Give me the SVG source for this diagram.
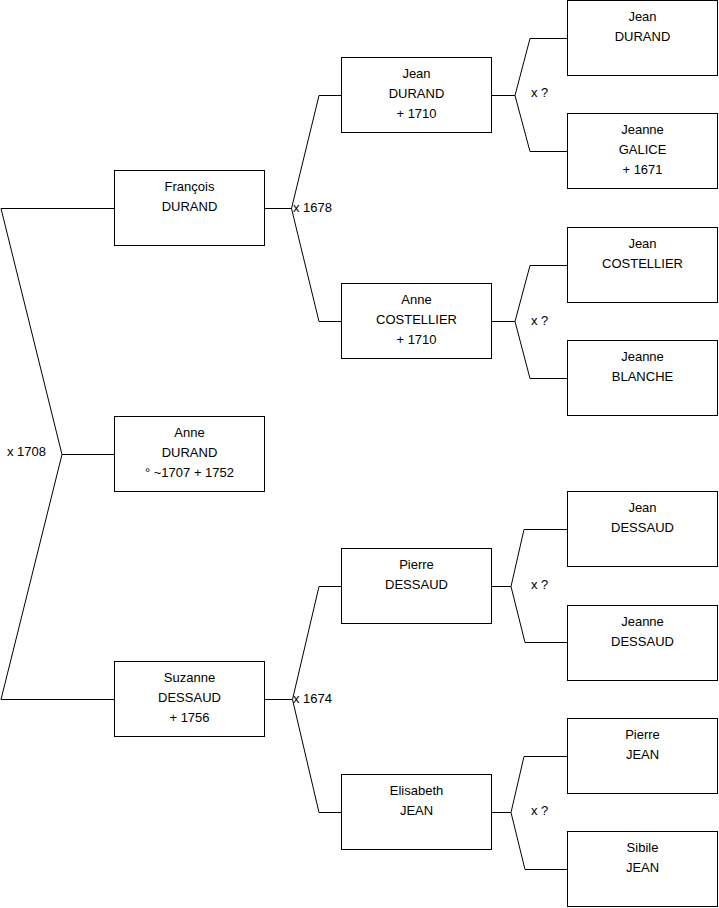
<svg xmlns="http://www.w3.org/2000/svg" width="719" height="908" viewBox="0 0 719 908">
<style>
.box{fill:#fff;stroke:#000;stroke-width:1}
.c{fill:none;stroke:#000;stroke-width:1}
text{font-family:"Liberation Sans",Arial,sans-serif;font-size:13px;fill:#000}
.m{text-anchor:middle}
</style>
<rect width="719" height="908" fill="#fff"/>
<g id="connectors">
<path class="c" d="M114,208.5 H1 L62,454.5 L1,699.5 H114 M62,454.5 H114"/>
<path class="c" d="M265,208.5 H291.5 L319,95.5 H341 M291.5,208.5 L319,321.5 H341"/>
<path class="c" d="M265,699.5 H292.5 L319,586.5 H341 M292.5,699.5 L319,812.5 H341"/>
<path class="c" d="M492,95.5 H515 L530,38.5 H567 M515,95.5 L530,151.5 H567"/>
<path class="c" d="M492,321.5 H515 L530,265.5 H567 M515,321.5 L530,378.5 H567"/>
<path class="c" d="M492,586.5 H511 L524,529.5 H567 M511,586.5 L525,642.5 H567"/>
<path class="c" d="M492,812.5 H511 L524,756.5 H567 M511,812.5 L525,869.5 H567"/>
<text x="7" y="456">x 1708</text>
<text x="293" y="211.5">x 1678</text>
<text x="293" y="702.5">x 1674</text>
<text x="531" y="96.5">x ?</text>
<text x="531" y="324.5">x ?</text>
<text x="531" y="588.5">x ?</text>
<text x="531" y="814.5">x ?</text>
</g>
<g id="francois"><rect class="box" x="114.5" y="170.5" width="150" height="75"/><text class="m" x="189.5" y="191">François</text><text class="m" x="189.5" y="211">DURAND</text></g>
<g id="anne-durand"><rect class="box" x="114.5" y="416.5" width="150" height="75"/><text class="m" x="189.5" y="437">Anne</text><text class="m" x="189.5" y="457">DURAND</text><text class="m" x="189.5" y="477">° ~1707 + 1752</text></g>
<g id="suzanne"><rect class="box" x="114.5" y="661.5" width="150" height="75"/><text class="m" x="189.5" y="682">Suzanne</text><text class="m" x="189.5" y="702">DESSAUD</text><text class="m" x="189.5" y="722">+ 1756</text></g>
<g id="jean-durand-2"><rect class="box" x="341.5" y="57.5" width="150" height="75"/><text class="m" x="416.5" y="78">Jean</text><text class="m" x="416.5" y="98">DURAND</text><text class="m" x="416.5" y="118">+ 1710</text></g>
<g id="anne-costellier"><rect class="box" x="341.5" y="283.5" width="150" height="75"/><text class="m" x="416.5" y="304">Anne</text><text class="m" x="416.5" y="324">COSTELLIER</text><text class="m" x="416.5" y="344">+ 1710</text></g>
<g id="pierre-dessaud"><rect class="box" x="341.5" y="548.5" width="150" height="75"/><text class="m" x="416.5" y="569">Pierre</text><text class="m" x="416.5" y="589">DESSAUD</text></g>
<g id="elisabeth-jean"><rect class="box" x="341.5" y="774.5" width="150" height="75"/><text class="m" x="416.5" y="795">Elisabeth</text><text class="m" x="416.5" y="815">JEAN</text></g>
<g id="jean-durand-3"><rect class="box" x="567.5" y="0.5" width="150" height="75"/><text class="m" x="642.5" y="21">Jean</text><text class="m" x="642.5" y="41">DURAND</text></g>
<g id="jeanne-galice"><rect class="box" x="567.5" y="113.5" width="150" height="75"/><text class="m" x="642.5" y="134">Jeanne</text><text class="m" x="642.5" y="154">GALICE</text><text class="m" x="642.5" y="174">+ 1671</text></g>
<g id="jean-costellier"><rect class="box" x="567.5" y="227.5" width="150" height="75"/><text class="m" x="642.5" y="248">Jean</text><text class="m" x="642.5" y="268">COSTELLIER</text></g>
<g id="jeanne-blanche"><rect class="box" x="567.5" y="340.5" width="150" height="75"/><text class="m" x="642.5" y="361">Jeanne</text><text class="m" x="642.5" y="381">BLANCHE</text></g>
<g id="jean-dessaud"><rect class="box" x="567.5" y="491.5" width="150" height="75"/><text class="m" x="642.5" y="512">Jean</text><text class="m" x="642.5" y="532">DESSAUD</text></g>
<g id="jeanne-dessaud"><rect class="box" x="567.5" y="605.5" width="150" height="75"/><text class="m" x="642.5" y="626">Jeanne</text><text class="m" x="642.5" y="646">DESSAUD</text></g>
<g id="pierre-jean"><rect class="box" x="567.5" y="718.5" width="150" height="75"/><text class="m" x="642.5" y="739">Pierre</text><text class="m" x="642.5" y="759">JEAN</text></g>
<g id="sibile-jean"><rect class="box" x="567.5" y="831.5" width="150" height="75"/><text class="m" x="642.5" y="852">Sibile</text><text class="m" x="642.5" y="872">JEAN</text></g>
</svg>
